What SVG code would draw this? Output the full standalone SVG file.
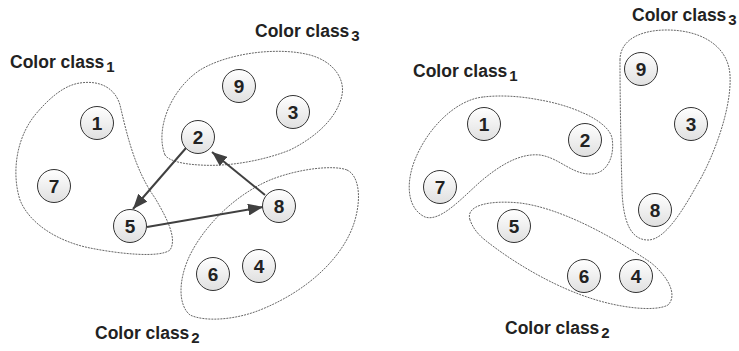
<svg xmlns="http://www.w3.org/2000/svg" width="739" height="351" viewBox="0 0 739 351">
  <defs>
    <linearGradient id="nodeFill" x1="0" y1="0" x2="0" y2="1">
      <stop offset="0" stop-color="#ffffff"/>
      <stop offset="1" stop-color="#e0e0e0"/>
    </linearGradient>
    <marker id="arrow" markerUnits="userSpaceOnUse" markerWidth="16" markerHeight="12" refX="15" refY="6" orient="auto">
      <path d="M0,0 L15,6 L0,12 Z" fill="#404040"/>
    </marker>
  </defs>
  <style>
    .region { fill: none; stroke: #555; stroke-width: 0.9; stroke-dasharray: 2 1; }
    .node circle { fill: url(#nodeFill); stroke: #333; stroke-width: 1; }
    .node text { font-family: "Liberation Sans", Arial, sans-serif; font-weight: bold; font-size: 19px; fill: #222; text-anchor: middle; }
    .label { font-family: "Liberation Sans", Arial, sans-serif; font-weight: bold; font-size: 17.5px; fill: #222; }
    .label tspan.sub { font-size: 15px; }
    .edge { stroke: #404040; stroke-width: 2; fill: none; marker-end: url(#arrow); }
  </style>
  <rect width="739" height="351" fill="#ffffff"/>

  <!-- left graph: class regions -->
  <g id="left-regions">
    <path class="region" d="M80,83 C100,80 115,88 120,105 C127,135 135,170 155,198 C165,215 178,238 170,250 C160,258 120,254 90,248 C60,242 30,225 20,200 C12,175 15,140 35,115 C50,97 65,85 80,83 Z"/>
    <path class="region" d="M165,155 C155,130 170,90 200,70 C230,52 280,47 310,55 C335,62 345,80 342,95 C338,115 320,135 290,150 C265,160 230,167 200,165 C180,164 168,160 165,155 Z"/>
    <path class="region" d="M347,170 C358,175 362,195 355,220 C345,255 310,290 260,310 C235,320 205,322 190,315 C178,305 178,280 190,255 C205,225 235,195 270,180 C300,168 335,165 347,170 Z"/>
  </g>

  <!-- right graph: class regions -->
  <g id="right-regions">
    <path class="region" d="M483,97 C455,100 425,130 413,165 C405,190 410,210 425,217 C440,222 460,200 480,182 C500,165 520,153 540,155 C560,158 572,175 592,174 C608,173 615,155 612,138 C608,120 570,105 540,100 C520,96 500,95 483,97 Z"/>
    <path class="region" d="M620,60 C620,40 640,30 667,30 C700,30 728,45 730,75 C732,110 712,160 697,185 C683,210 665,240 648,240 C630,240 623,220 622,190 C621,150 620,100 620,60 Z"/>
    <path class="region" d="M470,220 C465,205 490,200 520,203 C560,208 610,235 650,262 C668,276 678,295 668,305 C655,312 620,308 590,298 C550,285 510,260 485,240 C475,232 472,225 470,220 Z"/>
  </g>

  <!-- connectors -->
  <g id="connectors">
    <line class="edge" x1="186" y1="148" x2="133" y2="209"/>
    <line class="edge" x1="265" y1="195" x2="212" y2="152"/>
    <line class="edge" x1="147" y1="227" x2="263" y2="207"/>
  </g>

  <!-- left graph nodes -->
  <g id="L1" class="node"><circle cx="97" cy="123" r="16.5"/><text x="97" y="130">1</text></g>
  <g id="L7" class="node"><circle cx="54" cy="186" r="16.5"/><text x="54" y="193">7</text></g>
  <g id="L5" class="node"><circle cx="130" cy="226" r="16.5"/><text x="130" y="233">5</text></g>
  <g id="L2" class="node"><circle cx="198" cy="137" r="16.5"/><text x="198" y="144">2</text></g>
  <g id="L9" class="node"><circle cx="239" cy="86" r="16.5"/><text x="239" y="93">9</text></g>
  <g id="L3" class="node"><circle cx="293" cy="112" r="16.5"/><text x="293" y="119">3</text></g>
  <g id="L8" class="node"><circle cx="279" cy="206" r="16.5"/><text x="279" y="213">8</text></g>
  <g id="L6" class="node"><circle cx="213" cy="274" r="16.5"/><text x="213" y="281">6</text></g>
  <g id="L4" class="node"><circle cx="259" cy="266" r="16.5"/><text x="259" y="273">4</text></g>

  <!-- right graph nodes -->
  <g id="R1" class="node"><circle cx="484" cy="124" r="16.5"/><text x="484" y="131">1</text></g>
  <g id="R2" class="node"><circle cx="585" cy="140" r="16.5"/><text x="585" y="147">2</text></g>
  <g id="R7" class="node"><circle cx="440" cy="187" r="16.5"/><text x="440" y="194">7</text></g>
  <g id="R9" class="node"><circle cx="641" cy="69" r="16.5"/><text x="641" y="76">9</text></g>
  <g id="R3" class="node"><circle cx="691" cy="124" r="16.5"/><text x="691" y="131">3</text></g>
  <g id="R8" class="node"><circle cx="655" cy="210" r="16.5"/><text x="655" y="217">8</text></g>
  <g id="R5" class="node"><circle cx="514" cy="226" r="16.5"/><text x="514" y="233">5</text></g>
  <g id="R6" class="node"><circle cx="584" cy="276" r="16.5"/><text x="584" y="283">6</text></g>
  <g id="R4" class="node"><circle cx="636" cy="276" r="16.5"/><text x="636" y="283">4</text></g>

  <!-- class labels -->
  <g id="labels">
    <text class="label" x="10" y="68">Color class<tspan class="sub" dx="2" dy="4">1</tspan></text>
    <text class="label" x="255" y="37">Color class<tspan class="sub" dx="2" dy="4">3</tspan></text>
    <text class="label" x="95" y="339">Color class<tspan class="sub" dx="2" dy="4">2</tspan></text>
    <text class="label" x="413" y="77">Color class<tspan class="sub" dx="2" dy="4">1</tspan></text>
    <text class="label" x="632" y="21">Color class<tspan class="sub" dx="2" dy="4">3</tspan></text>
    <text class="label" x="505" y="334">Color class<tspan class="sub" dx="2" dy="4">2</tspan></text>
  </g>
</svg>
